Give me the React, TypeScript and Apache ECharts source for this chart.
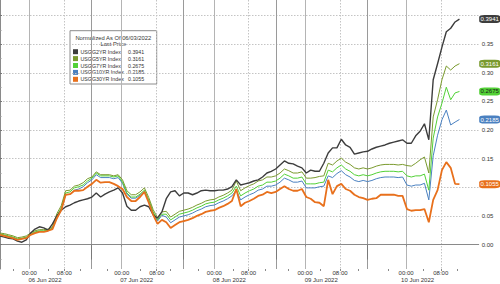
import React, { useEffect, useRef } from 'react';
import * as echarts from 'echarts';

// Session-hour axis (x = hours in the plotted session timeline)
const X_MAX = 109.4;
const hourTickPos = [6.7, 14.7, 27.82, 35.82, 48.98, 56.8, 69.71, 77.71, 92.8, 100.73];
const hourTickLabels = ['00:00', '08:00', '00:00', '08:00', '00:00', '08:00', '00:00', '08:00', '00:00', '08:00'];
const midnightPos = [6.7, 27.82, 48.98, 69.71, 92.8];
const eightPos = [14.7, 35.82, 56.8, 77.71, 100.73];
const daySepPos = [20.8, 41.9, 63.02, 83.95];
const minorTickPos = [3.04, 11.04, 18.3, 24.4, 32.0, 38.9, 45.3, 53.3, 60.6, 65.9, 73.1, 81.9, 88.8, 96.8, 104.4];
const dayLabelPos = [10.29, 31.24, 52.41, 73.42, 95.43];
const dayLabels = ['06 Jun 2022', '07 Jun 2022', '08 Jun 2022', '09 Jun 2022', '10 Jun 2022'];

const yGridTicks = [0, 0.05, 0.1, 0.15, 0.2, 0.25, 0.3, 0.35, 0.4];
const yLabelTicks = [0, 0.05, 0.15, 0.2, 0.25, 0.3, 0.35];
const yMinorTicks = [-0.025, 0.025, 0.075, 0.125, 0.175, 0.225, 0.275, 0.325, 0.375];

const names = ['USGG2YR Index', 'USGG5YR Index', 'USGG7YR Index', 'USGG10YR Index', 'USGG30YR Index'];
const colors = ['#3d3d3d', '#7a9a2e', '#52d136', '#4a80c0', '#e8701c'];
const badgeText = ['#ffffff', '#ffffff', '#1a1a1a', '#ffffff', '#ffffff'];

const usgg2 = [
  0.015, 0.013, 0.011, 0.010, 0.006, 0.004, 0.008, 0.020, 0.027, 0.031,
  0.029, 0.025, 0.036, 0.050, 0.060, 0.066, 0.069, 0.073, 0.076, 0.078,
  0.080, 0.083, 0.090, 0.083, 0.088, 0.092, 0.095, 0.099, 0.090, 0.067,
  0.060, 0.060, 0.066, 0.069, 0.066, 0.052, 0.046, 0.057, 0.080, 0.092,
  0.094, 0.085, 0.090, 0.090, 0.087, 0.090, 0.094, 0.095, 0.094, 0.094,
  0.095, 0.095, 0.097, 0.101, 0.113, 0.104, 0.106, 0.108, 0.111, 0.113,
  0.118, 0.125, 0.128, 0.132, 0.139, 0.146, 0.142, 0.141, 0.137, 0.134,
  0.125, 0.130, 0.128, 0.128, 0.142, 0.160, 0.169, 0.169, 0.184, 0.174,
  0.170, 0.158, 0.160, 0.162, 0.163, 0.167, 0.170, 0.172, 0.174, 0.177,
  0.179, 0.181, 0.183, 0.177, 0.177, 0.190, 0.198, 0.211, 0.183, 0.288,
  0.316, 0.345, 0.372, 0.378, 0.389, 0.3941,
];
const usgg5 = [
  0.020, 0.019, 0.017, 0.015, 0.012, 0.013, 0.015, 0.020, 0.024, 0.026,
  0.026, 0.027, 0.031, 0.054, 0.068, 0.094, 0.095, 0.102, 0.104, 0.108,
  0.115, 0.118, 0.127, 0.122, 0.122, 0.122, 0.120, 0.122, 0.113, 0.094,
  0.087, 0.087, 0.092, 0.099, 0.082, 0.061, 0.047, 0.057, 0.058, 0.048,
  0.053, 0.058, 0.060, 0.062, 0.065, 0.069, 0.072, 0.076, 0.078, 0.079,
  0.083, 0.086, 0.090, 0.095, 0.111, 0.094, 0.099, 0.103, 0.106, 0.111,
  0.113, 0.118, 0.118, 0.120, 0.125, 0.132, 0.129, 0.125, 0.125, 0.127,
  0.116, 0.116, 0.117, 0.119, 0.120, 0.142, 0.139, 0.146, 0.151, 0.144,
  0.140, 0.134, 0.132, 0.134, 0.132, 0.134, 0.137, 0.139, 0.140, 0.140,
  0.140, 0.139, 0.140, 0.138, 0.137, 0.142, 0.148, 0.153, 0.125, 0.223,
  0.253, 0.288, 0.312, 0.305, 0.312, 0.3161,
];
const usgg7 = [
  0.018, 0.017, 0.015, 0.013, 0.010, 0.011, 0.013, 0.018, 0.022, 0.024,
  0.024, 0.025, 0.029, 0.050, 0.064, 0.090, 0.092, 0.099, 0.101, 0.104,
  0.111, 0.116, 0.125, 0.120, 0.120, 0.120, 0.118, 0.120, 0.109, 0.090,
  0.083, 0.083, 0.088, 0.095, 0.078, 0.057, 0.043, 0.053, 0.053, 0.043,
  0.048, 0.053, 0.055, 0.057, 0.060, 0.064, 0.067, 0.071, 0.073, 0.074,
  0.078, 0.081, 0.085, 0.090, 0.102, 0.085, 0.090, 0.094, 0.097, 0.102,
  0.104, 0.109, 0.109, 0.111, 0.116, 0.123, 0.120, 0.116, 0.116, 0.118,
  0.106, 0.106, 0.106, 0.108, 0.109, 0.130, 0.127, 0.134, 0.139, 0.132,
  0.128, 0.122, 0.120, 0.122, 0.120, 0.122, 0.125, 0.127, 0.128, 0.128,
  0.128, 0.127, 0.128, 0.120, 0.118, 0.120, 0.120, 0.123, 0.095, 0.186,
  0.223, 0.247, 0.275, 0.253, 0.265, 0.2675,
];
const usgg10 = [
  0.017, 0.016, 0.014, 0.012, 0.009, 0.010, 0.012, 0.017, 0.021, 0.023,
  0.023, 0.024, 0.028, 0.046, 0.060, 0.087, 0.088, 0.095, 0.097, 0.101,
  0.108, 0.113, 0.122, 0.117, 0.117, 0.117, 0.115, 0.117, 0.107, 0.088,
  0.081, 0.081, 0.086, 0.093, 0.076, 0.055, 0.041, 0.051, 0.048, 0.038,
  0.043, 0.048, 0.050, 0.052, 0.055, 0.059, 0.062, 0.066, 0.068, 0.069,
  0.073, 0.076, 0.080, 0.085, 0.095, 0.078, 0.083, 0.087, 0.090, 0.095,
  0.097, 0.102, 0.102, 0.104, 0.109, 0.116, 0.113, 0.109, 0.109, 0.111,
  0.099, 0.099, 0.099, 0.101, 0.102, 0.120, 0.117, 0.124, 0.129, 0.122,
  0.118, 0.112, 0.110, 0.112, 0.110, 0.112, 0.115, 0.117, 0.118, 0.118,
  0.118, 0.117, 0.118, 0.104, 0.102, 0.104, 0.104, 0.107, 0.078, 0.155,
  0.191, 0.218, 0.235, 0.209, 0.214, 0.2185,
];
const usgg30 = [
  0.017, 0.015, 0.013, 0.011, 0.008, 0.010, 0.011, 0.017, 0.020, 0.022,
  0.022, 0.024, 0.027, 0.046, 0.060, 0.087, 0.088, 0.094, 0.094, 0.095,
  0.101, 0.106, 0.113, 0.108, 0.109, 0.109, 0.106, 0.102, 0.097, 0.083,
  0.076, 0.076, 0.083, 0.092, 0.073, 0.052, 0.036, 0.043, 0.039, 0.029,
  0.034, 0.039, 0.041, 0.043, 0.046, 0.050, 0.053, 0.057, 0.059, 0.060,
  0.064, 0.067, 0.071, 0.076, 0.097, 0.067, 0.073, 0.076, 0.080, 0.085,
  0.087, 0.092, 0.090, 0.092, 0.097, 0.102, 0.097, 0.094, 0.094, 0.097,
  0.083, 0.080, 0.074, 0.073, 0.067, 0.113, 0.088, 0.102, 0.106, 0.097,
  0.094, 0.087, 0.083, 0.081, 0.078, 0.080, 0.081, 0.087, 0.087, 0.087,
  0.087, 0.085, 0.085, 0.062, 0.059, 0.060, 0.060, 0.062, 0.039, 0.078,
  0.095, 0.130, 0.144, 0.134, 0.106, 0.1055,
];

const seriesValues = [usgg2, usgg5, usgg7, usgg10, usgg30];
const lineWidths = [1.4, 1, 1, 1, 1.8];
const drawOrder = [3, 2, 1, 0, 4];

const FONT = '"Liberation Sans", Arial, sans-serif';

function nearestLabel(v: number, pos: number[], labels: string[]) {
  let best = 0;
  for (let i = 1; i < pos.length; i++) {
    if (Math.abs(pos[i] - v) < Math.abs(pos[best] - v)) best = i;
  }
  return Math.abs(pos[best] - v) < 0.5 ? labels[best] : '';
}

function baseX(extra: any) {
  return {
    type: 'value',
    gridIndex: 0,
    position: 'bottom',
    min: 0,
    max: X_MAX,
    offset: 0,
    ...extra,
  };
}

export default function App() {
  const ref = useRef<HTMLDivElement>(null);
  useEffect(() => {
    if (!ref.current) return;
    const chart = echarts.init(ref.current, undefined, { renderer: 'svg' });

    const series = drawOrder.map((k) => {
      const vals = seriesValues[k];
      const last = vals[vals.length - 1];
      return {
        name: names[k],
        type: 'line',
        xAxisIndex: 0,
        yAxisIndex: 0,
        showSymbol: false,
        symbol: 'none',
        lineStyle: { color: colors[k], width: lineWidths[k] },
        itemStyle: { color: colors[k] },
        data: vals.map((v, i) => [i, v]),
        markPoint: {
          silent: true,
          symbol: 'roundRect',
          symbolSize: [21, 8],
          symbolOffset: [11, 0],
          itemStyle: { color: colors[k] },
          label: {
            show: true,
            position: 'inside',
            formatter: last.toFixed(4),
            color: badgeText[k],
            fontSize: 6,
            fontFamily: FONT,
          },
          data: [{ coord: [X_MAX, last], value: last }],
        },
      };
    });

    const legendX = 70;
    const legendY = 30.7;
    const legendChildren: any[] = [
      {
        type: 'rect',
        shape: { x: legendX, y: legendY, width: 86.7, height: 53.3 },
        style: { fill: '#ffffff', stroke: '#8c8c8c', lineWidth: 1 },
      },
      {
        type: 'text',
        style: {
          text: 'Normalized As Of 06/03/2022',
          x: legendX + 43.3,
          y: 37.7,
          fill: '#333',
          font: `5.8px ${FONT}`,
          textAlign: 'center',
          textVerticalAlign: 'middle',
        },
      },
      {
        type: 'text',
        style: {
          text: 'Last Price',
          x: legendX + 43.3,
          y: 44.3,
          fill: '#333',
          font: `5.8px ${FONT}`,
          textAlign: 'center',
          textVerticalAlign: 'middle',
        },
      },
    ];
    names.forEach((n, i) => {
      const vals = seriesValues[i];
      const cy = 51.7 + i * 6.9;
      legendChildren.push({
        type: 'rect',
        shape: { x: 73, y: cy - 2.5, width: 5, height: 5 },
        style: { fill: colors[i] },
      });
      legendChildren.push({
        type: 'text',
        style: {
          text: n,
          x: 80.5,
          y: cy,
          fill: '#333',
          font: `5.3px ${FONT}`,
          textVerticalAlign: 'middle',
        },
      });
      legendChildren.push({
        type: 'text',
        style: {
          text: vals[vals.length - 1].toFixed(4),
          x: 128,
          y: cy,
          fill: '#333',
          font: `5.3px ${FONT}`,
          textVerticalAlign: 'middle',
        },
      });
    });

    chart.setOption({
      animation: false,
      backgroundColor: '#ffffff',
      grid: { left: 0, right: 21.3, top: 0, bottom: 15, containLabel: false },
      xAxis: [
        baseX({
          axisLine: { show: true, lineStyle: { color: '#8a8a8a', width: 1 } },
          axisTick: { show: true, customValues: daySepPos, length: 15, lineStyle: { color: '#7a7a7a' } },
          splitLine: { show: true, lineStyle: { color: '#9a9a9a', type: 'solid', width: 1 } },
          axisLabel: {
            show: true,
            customValues: hourTickPos,
            formatter: (v: number) => nearestLabel(v, hourTickPos, hourTickLabels),
            fontSize: 6,
            fontFamily: FONT,
            color: '#333',
            margin: 1,
            hideOverlap: false,
          },
        }),
        baseX({
          axisLine: { show: false },
          axisTick: { show: true, customValues: midnightPos, length: 2, lineStyle: { color: '#8a8a8a' } },
          splitLine: { show: true, lineStyle: { color: '#b4b4b4', type: 'solid', width: 1 } },
          axisLabel: {
            show: true,
            customValues: dayLabelPos,
            formatter: (v: number) => nearestLabel(v, dayLabelPos, dayLabels),
            fontSize: 6,
            fontFamily: FONT,
            color: '#333',
            margin: 8,
            hideOverlap: false,
          },
        }),
        baseX({
          axisLine: { show: false },
          axisTick: { show: true, customValues: eightPos, length: 2, lineStyle: { color: '#8a8a8a' } },
          splitLine: { show: true, lineStyle: { color: '#c4c4c4', type: [1.5, 1.5], width: 1 } },
          axisLabel: { show: false },
        }),
        baseX({
          axisLine: { show: false },
          axisTick: { show: true, customValues: minorTickPos, length: 2, lineStyle: { color: '#8a8a8a' } },
          splitLine: { show: false },
          axisLabel: { show: false },
        }),
      ],
      yAxis: [
        {
          type: 'value',
          position: 'right',
          min: -0.0428,
          max: 0.4274,
          axisLine: { show: true, lineStyle: { color: '#8a8a8a' } },
          axisTick: { show: true, customValues: yGridTicks, length: 2, lineStyle: { color: '#777' } },
          splitLine: { show: true, lineStyle: { color: '#c4c4c4', type: [1.5, 1.5], width: 1 } },
          axisLabel: {
            show: true,
            customValues: yLabelTicks,
            formatter: (v: number) => v.toFixed(2),
            fontSize: 6,
            fontFamily: FONT,
            color: '#333',
            margin: 3,
          },
        },
        {
          type: 'value',
          position: 'right',
          offset: 0,
          min: -0.0428,
          max: 0.4274,
          axisLine: { show: false },
          axisTick: { show: true, customValues: yMinorTicks, length: 1.5, lineStyle: { color: '#999' } },
          splitLine: { show: false },
          axisLabel: { show: false },
        },
      ],
      series,
      graphic: [{ type: 'group', silent: true, z: 100, children: legendChildren }],
    });
    return () => chart.dispose();
  }, []);
  return (
    <div
      ref={ref}
      style={{ position: 'fixed', left: 0, top: 0, width: 500, height: 284, background: '#fff' }}
    />
  );
}
